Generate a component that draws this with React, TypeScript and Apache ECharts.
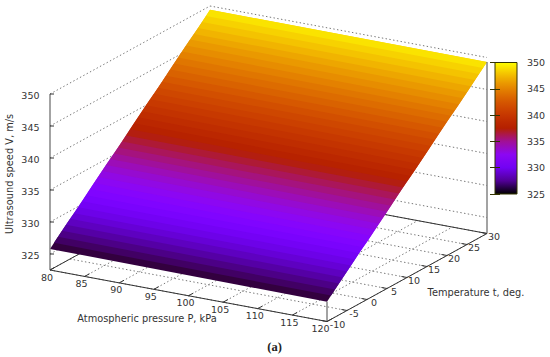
import React, { useEffect, useRef } from "react";
import * as echarts from "echarts";

const pressureTicks = [80, 85, 90, 95, 100, 105, 110, 115, 120];
const temperatureTicks = [-10, -5, 0, 5, 10, 15, 20, 25, 30];
const speedTicks = [325, 330, 335, 340, 345, 350];
const surfacePressures = [80, 120];
const surfaceTemperatures = [
  -10, -9, -8, -7, -6, -5, -4, -3, -2, -1, 0, 1, 2, 3, 4, 5, 6, 7, 8, 9, 10,
  11, 12, 13, 14, 15, 16, 17, 18, 19, 20, 21, 22, 23, 24, 25, 26, 27, 28, 29, 30,
];
const speedAt80 = [
  325.8, 326.4, 327.0, 327.6, 328.2, 328.8, 329.3, 329.9, 330.5, 331.1, 331.7,
  332.3, 332.9, 333.5, 334.1, 334.7, 335.2, 335.8, 336.4, 337.0, 337.6,
  338.2, 338.8, 339.4, 340.0, 340.6, 341.1, 341.7, 342.3, 342.9, 343.5,
  344.1, 344.7, 345.3, 345.9, 346.5, 347.0, 347.6, 348.2, 348.8, 349.4,
];
const speedAt120 = [
  325.6, 326.2, 326.8, 327.4, 328.0, 328.6, 329.2, 329.8, 330.4, 331.0, 331.5,
  332.1, 332.7, 333.3, 333.9, 334.5, 335.1, 335.7, 336.3, 336.9, 337.5,
  338.0, 338.6, 339.2, 339.8, 340.4, 341.0, 341.6, 342.2, 342.8, 343.4,
  344.0, 344.5, 345.1, 345.7, 346.3, 346.9, 347.5, 348.1, 348.7, 349.3,
];

const FONT = "DejaVu Sans";
const TEXT = "#333333";
const FRAME = "#333333";
const WALL = "#666666";
const GRID = "#777777";
const DOTS = [1.4, 2.4];

const project = (p: number, t: number, v: number): number[] => {
  const u = (p - 80) / 40;
  const w = (t + 10) / 40;
  const h = (v - 325) / 25;
  return [50 + 277 * u + 160 * w, 254 + 51.5 * u - 88 * w - 160 * h];
};

const palette = (v: number): string => {
  const x = Math.min(1, Math.max(0, (v - 325) / 25));
  const r = Math.sqrt(x);
  const g = x * x * x;
  const b = Math.max(0, Math.sin(2 * Math.PI * x));
  return `rgb(${Math.round(r * 255)},${Math.round(g * 255)},${Math.round(b * 255)})`;
};

const FLOOR = 322.5;
const [Pmin, Pmax] = [pressureTicks[0], pressureTicks[pressureTicks.length - 1]];
const [Tmin, Tmax] = [temperatureTicks[0], temperatureTicks[temperatureTicks.length - 1]];
const [Vmin, Vmax] = [speedTicks[0], speedTicks[speedTicks.length - 1]];

const segment = (api: any, a: number[], b: number[], stroke: string, lineWidth = 1, lineDash?: number[]) => {
  const p = api.coord(a);
  const q = api.coord(b);
  return {
    type: "line",
    shape: { x1: p[0], y1: p[1], x2: q[0], y2: q[1] },
    style: { stroke, lineWidth, lineDash, fill: null },
    silent: true,
  };
};

const label = (api: any, at: number[], dx: number, dy: number, text: string, align = "center") => {
  const p = api.coord(at);
  return {
    type: "text",
    x: p[0] + dx,
    y: p[1] + dy,
    style: { text, fill: TEXT, font: `9.5px "${FONT}"`, align, verticalAlign: "middle" },
    silent: true,
  };
};

const backdrop = (_: any, api: any) => {
  const children: any[] = [];
  pressureTicks.forEach((p) =>
    children.push(segment(api, project(p, Tmin, FLOOR), project(p, Tmax, FLOOR), GRID, 1, DOTS))
  );
  temperatureTicks.forEach((t) =>
    children.push(segment(api, project(Pmin, t, FLOOR), project(Pmax, t, FLOOR), GRID, 1, DOTS))
  );
  speedTicks.forEach((v) => {
    children.push(segment(api, project(Pmin, Tmin, v), project(Pmin, Tmax, v), GRID, 1, DOTS));
    children.push(segment(api, project(Pmin, Tmax, v), project(Pmax, Tmax, v), GRID, 1, DOTS));
  });
  children.push(segment(api, project(Pmin, Tmin, FLOOR), project(Pmin, Tmax, FLOOR), FRAME));
  children.push(segment(api, project(Pmin, Tmax, FLOOR), project(Pmax, Tmax, FLOOR), FRAME));
  return { type: "group", children };
};

const surfaceCell = (params: any, api: any) => {
  const i = params.dataIndex;
  const last = surfaceTemperatures.length - 1;
  const t0 = surfaceTemperatures[i];
  const j = Math.min(i + 2, last);
  const tj = surfaceTemperatures[j];
  const corners = [
    project(surfacePressures[0], t0, speedAt80[i]),
    project(surfacePressures[1], t0, speedAt120[i]),
    project(surfacePressures[1], tj, speedAt120[j]),
    project(surfacePressures[0], tj, speedAt80[j]),
  ];
  const mean = (speedAt80[i] + speedAt120[i] + speedAt80[i + 1] + speedAt120[i + 1]) / 4;
  return {
    type: "polygon",
    shape: { points: corners.map((c) => api.coord(c)) },
    style: { fill: palette(mean) },
    silent: true,
  };
};

const foreground = (_: any, api: any) => {
  const children: any[] = [];
  children.push(segment(api, project(Pmin, Tmin, FLOOR), project(Pmax, Tmin, FLOOR), FRAME));
  children.push(segment(api, project(Pmax, Tmin, FLOOR), project(Pmax, Tmax, FLOOR), FRAME));
  children.push(segment(api, project(Pmin, Tmin, FLOOR), project(Pmin, Tmin, Vmax), WALL, 1.2));
  children.push(segment(api, project(Pmax, Tmax, FLOOR), project(Pmax, Tmax, speedAt120[40]), WALL, 1.2));
  children.push(segment(api, project(Pmax, Tmin, FLOOR), project(Pmax, Tmin, speedAt120[0]), WALL, 1.2));
  pressureTicks.forEach((p) => {
    children.push(segment(api, project(p, Tmin, FLOOR), project(p, Tmin + 1.2, FLOOR), FRAME));
    children.push(label(api, project(p, Tmin, FLOOR), p === Pmax ? -6.5 : -3, 7, String(p)));
  });
  temperatureTicks.forEach((t) => {
    children.push(segment(api, project(Pmax, t, FLOOR), project(Pmax - 0.8, t, FLOOR), FRAME));
    children.push(label(api, project(Pmax, t, FLOOR), t === Tmin ? 10.5 : 7, 3, String(t)));
  });
  speedTicks.forEach((v) => {
    const start = api.coord(project(Pmin, Tmin, v));
    children.push({
      type: "line",
      shape: { x1: start[0], y1: start[1], x2: start[0] + 4, y2: start[1] },
      style: { stroke: FRAME, lineWidth: 1 },
      silent: true,
    });
    children.push(label(api, project(Pmin, Tmin, v), -10.5, 1, String(v), "right"));
  });
  return { type: "group", children };
};

const colorBar = (_: any, api: any) => {
  const top = api.coord([0, Vmax]);
  const bottom = api.coord([1, Vmin]);
  const colorStops = [
    0, 0.02, 0.04, 0.08, 0.12, 0.16, 0.2, 0.25, 0.3, 0.35, 0.4, 0.45, 0.5, 0.55, 0.6, 0.7, 0.8, 0.9, 1,
  ].map((offset) => ({ offset, color: palette(Vmax - offset * (Vmax - Vmin)) }));
  return {
    type: "rect",
    shape: { x: top[0], y: top[1], width: bottom[0] - top[0], height: bottom[1] - top[1] },
    style: {
      fill: new echarts.graphic.LinearGradient(0, 0, 0, 1, colorStops),
      stroke: "#333300",
      lineWidth: 1,
    },
    silent: true,
  };
};

const sceneSeries = (renderItem: any, data: number[][], z: number) => ({
  type: "custom",
  coordinateSystem: "cartesian2d",
  xAxisIndex: 0,
  yAxisIndex: 0,
  clip: false,
  silent: true,
  z,
  renderItem,
  data,
});

const barAxis = (position: string, showLabel: boolean) => ({
  type: "value",
  gridIndex: 1,
  position,
  min: Vmin,
  max: Vmax,
  interval: 5,
  z: 10,
  axisLine: { show: false },
  splitLine: { show: false },
  axisTick: { show: true, inside: true, length: 5, lineStyle: { color: "#333300", width: 1 } },
  axisLabel: {
    show: showLabel,
    color: TEXT,
    fontFamily: FONT,
    fontSize: 9.5,
    margin: 10,
    formatter: (value: number) => String(value),
  },
});

const textItem = (x: number, y: number, text: string, extra: any = {}) => ({
  type: "text",
  x,
  y,
  silent: true,
  style: {
    text,
    fill: TEXT,
    font: `9.8px "${FONT}"`,
    align: "center",
    verticalAlign: "middle",
    ...extra,
  },
});

export default function App() {
  const ref = useRef<HTMLDivElement>(null);
  useEffect(() => {
    if (!ref.current) return;
    const chart = echarts.init(ref.current, undefined, { renderer: "svg" });
    chart.setOption({
      animation: false,
      backgroundColor: "#ffffff",
      grid: [
        { left: 0, top: 0, width: 550, height: 357 },
        { left: 495, top: 62.5, width: 22, height: 131.5 },
      ],
      xAxis: [
        { type: "value", gridIndex: 0, min: 0, max: 550, show: false },
        { type: "value", gridIndex: 1, min: 0, max: 1, show: false },
      ],
      yAxis: [
        { type: "value", gridIndex: 0, min: 0, max: 357, inverse: true, show: false },
        barAxis("right", true),
        barAxis("left", false),
      ],
      series: [
        sceneSeries(backdrop, [[0]], 2),
        sceneSeries(surfaceCell, surfaceTemperatures.slice(0, -1).map((t) => [t]), 3),
        sceneSeries(foreground, [[0]], 4),
        {
          type: "custom",
          coordinateSystem: "cartesian2d",
          xAxisIndex: 1,
          yAxisIndex: 1,
          clip: false,
          silent: true,
          z: 3,
          renderItem: colorBar,
          data: [[0, Vmin]],
        },
      ],
      graphic: [
        textItem(147, 318, "Atmospheric pressure P, kPa"),
        textItem(476, 292, "Temperature t, deg."),
        { ...textItem(0, 0, "Ultrasound speed V, m/s"), x: 9, y: 174, rotation: Math.PI / 2 },
        textItem(274.5, 346.5, "(a)", { font: 'bold 12.5px "Liberation Serif"', fill: "#222222" }),
      ],
    });
    return () => chart.dispose();
  }, []);
  return <div ref={ref} style={{ position: "absolute", left: 0, top: 0, width: 550, height: 357 }} />;
}
